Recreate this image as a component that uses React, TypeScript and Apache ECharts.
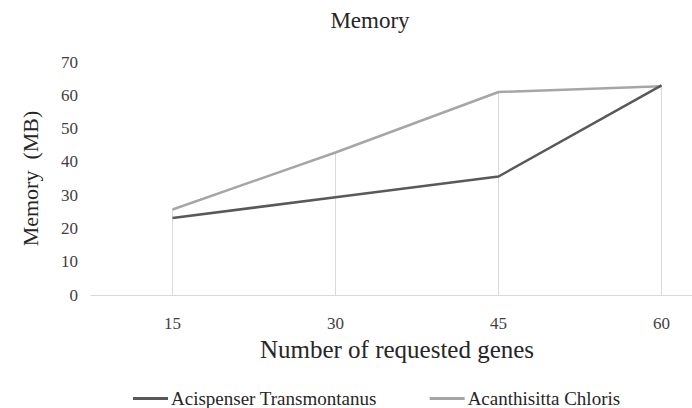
import React, { useEffect, useRef } from "react";
import * as echarts from "echarts";

const categories = ["15", "30", "45", "60"];
const acispenser = [23.1, 29.4, 35.6, 63.0];
const acanthisitta = [25.7, 42.8, 61.0, 62.7];
const yTicks = { min: 0, max: 70, interval: 10 };

const FONT = "'Liberation Serif', 'Times New Roman', serif";

export default function App() {
  const ref = useRef<HTMLDivElement>(null);
  useEffect(() => {
    document.body.style.margin = "0";
    document.body.style.overflow = "hidden";
    const chart = echarts.init(ref.current!, undefined, { renderer: "svg" });
    chart.setOption({
      animation: false,
      backgroundColor: "#ffffff",
      textStyle: { fontFamily: FONT },
      title: {
        text: "Memory",
        left: 365,
        top: 4,
        textAlign: "center",
        textStyle: { fontFamily: FONT, fontSize: 23, fontWeight: "normal", color: "#262626" },
      },
      grid: {
        left: 91,
        width: 652,
        top: 62,
        height: 233,
        containLabel: false,
        outerBoundsMode: "none",
      },
      legend: {
        left: 128,
        top: 384,
        icon: "rect",
        itemWidth: 35,
        itemHeight: 3,
        itemGap: 53,
        textStyle: { fontFamily: FONT, fontSize: 19, color: "#262626", padding: [0, 0, 0, -2] },
        data: ["Acispenser Transmontanus", "Acanthisitta Chloris"],
      },
      xAxis: {
        type: "category",
        data: categories,
        boundaryGap: true,
        name: "Number of requested genes",
        nameLocation: "middle",
        nameGap: 40,
        nameTextStyle: { fontFamily: FONT, fontSize: 25, color: "#262626", padding: [0, 40, 0, 0] },
        axisLine: { lineStyle: { color: "#d9d9d9", width: 1 } },
        axisTick: { show: false },
        axisLabel: { fontFamily: FONT, fontSize: 17, color: "#404040", margin: 20 },
        splitLine: { show: false },
      },
      yAxis: {
        type: "value",
        min: yTicks.min,
        max: yTicks.max,
        interval: yTicks.interval,
        name: "Memory  (MB)",
        nameLocation: "middle",
        nameGap: 50,
        nameRotate: 90,
        nameTextStyle: { fontFamily: FONT, fontSize: 22, color: "#262626" },
        axisLine: { show: false },
        axisTick: { show: false },
        axisLabel: { fontFamily: FONT, fontSize: 17, color: "#404040", margin: 13 },
        splitLine: { show: false },
      },
      series: [
        {
          name: "Acispenser Transmontanus",
          type: "line",
          data: acispenser,
          symbol: "none",
          lineStyle: { color: "#595959", width: 2.5 },
          itemStyle: { color: "#595959" },
          markLine: {
            silent: true,
            symbol: "none",
            label: { show: false },
            lineStyle: { color: "#d9d9d9", width: 1, type: "solid" },
            data: categories.map((c, i) => [
              { coord: [c, yTicks.min] },
              { coord: [c, Math.max(acispenser[i], acanthisitta[i])] },
            ]),
            z: 1,
          },
          z: 3,
        },
        {
          name: "Acanthisitta Chloris",
          type: "line",
          data: acanthisitta,
          symbol: "none",
          lineStyle: { color: "#a6a6a6", width: 2.5 },
          itemStyle: { color: "#a6a6a6" },
          z: 2,
        },
      ],
    });
    return () => chart.dispose();
  }, []);
  return <div ref={ref} style={{ width: 692, height: 408 }} />;
}
